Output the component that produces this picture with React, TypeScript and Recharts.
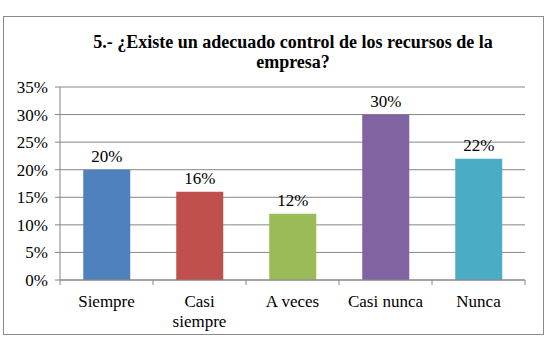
import React from 'react';
import { BarChart, Bar, XAxis, YAxis, CartesianGrid, LabelList, Cell, Text } from 'recharts';

const categorias = ['Siempre', 'Casi siempre', 'A veces', 'Casi nunca', 'Nunca'];
const porcentajes = [20, 16, 12, 30, 22];
const colores = ['#4F81BD', '#C0504D', '#9BBB59', '#8064A2', '#4BACC6'];
const yTicks = [0, 5, 10, 15, 20, 25, 30, 35];
const titulo = ['5.- ¿Existe un adecuado control de los recursos de la', 'empresa?'];

const data = categorias.map((c, i) => ({ categoria: c, valor: porcentajes[i] }));

const FONT = 'Liberation Serif, Times New Roman, DejaVu Serif, serif';
const BAND = 93;

const CategoryTick = (props: any) => {
  const { x, y, payload, index } = props;
  return (
    <g>
      <line x1={x - BAND / 2} y1={y - 8} x2={x - BAND / 2} y2={y - 3} stroke="#868686" />
      {index === categorias.length - 1 && (
        <line x1={x + BAND / 2} y1={y - 8} x2={x + BAND / 2} y2={y - 3} stroke="#868686" />
      )}
      <Text
        x={x}
        y={y + 7}
        width={80}
        textAnchor="middle"
        verticalAnchor="start"
        style={{ fontFamily: FONT, fontSize: 17 }}
        fill="#000"
        lineHeight={20}
      >
        {payload.value}
      </Text>
    </g>
  );
};

export default function App() {
  return (
    <div style={{ position: 'fixed', left: 0, top: 0, width: 554, height: 343, background: '#fff' }}>
      <div
        style={{
          position: 'absolute',
          left: 3,
          top: 16,
          width: 541,
          height: 319,
          border: '1px solid #8a8a8a',
          boxSizing: 'border-box',
        }}
      />
      <div
        style={{
          position: 'absolute',
          left: 73,
          width: 440,
          top: 32,
          textAlign: 'center',
          fontFamily: FONT,
          fontWeight: 'bold',
          fontSize: 18,
          lineHeight: '20px',
          color: '#000',
        }}
      >
        {titulo.map((t) => (
          <div key={t} style={{ whiteSpace: 'nowrap' }}>{t}</div>
        ))}
      </div>
      <BarChart
        width={554}
        height={343}
        data={data}
        margin={{ top: 87, right: 29, left: 0, bottom: 0 }}
        barCategoryGap="25%"
        style={{ position: 'absolute', left: 0, top: 0, fontFamily: FONT }}
      >
        <CartesianGrid vertical={false} stroke="#868686" />
        <XAxis
          dataKey="categoria"
          height={63}
          axisLine={{ stroke: '#868686' }}
          tickLine={false}
          interval={0}
          tick={<CategoryTick />}
        />
        <YAxis
          width={60}
          domain={[0, 35]}
          ticks={yTicks}
          interval={0}
          tickFormatter={(v) => `${v}%`}
          axisLine={{ stroke: '#868686' }}
          tickLine={{ stroke: '#868686' }}
          tickSize={5}
          tick={{ fontFamily: FONT, fontSize: 17, fill: '#000', dx: -5 }}
        />
        <Bar dataKey="valor" isAnimationActive={false}>
          {data.map((d, i) => (
            <Cell key={d.categoria} fill={colores[i]} />
          ))}
          <LabelList
            dataKey="valor"
            position="top"
            offset={8}
            formatter={(v: any) => `${v}%`}
            style={{ fontFamily: FONT, fontSize: 17, fill: '#000' }}
          />
        </Bar>
      </BarChart>
    </div>
  );
}
